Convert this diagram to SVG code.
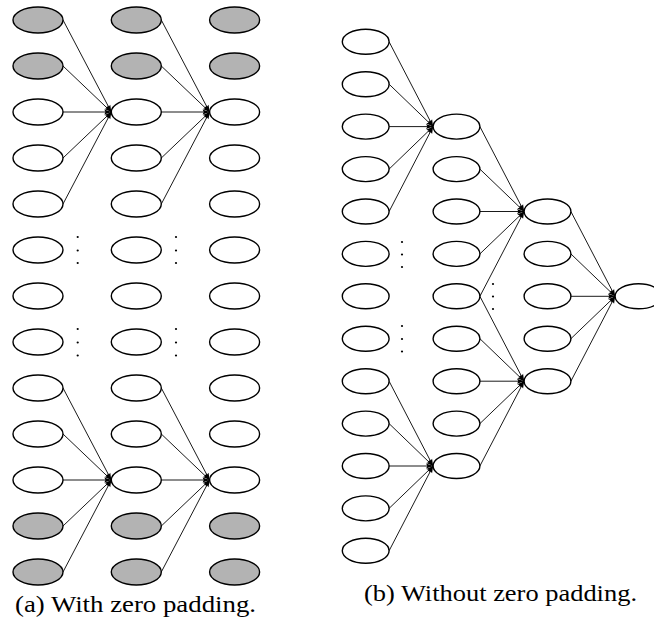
<svg xmlns="http://www.w3.org/2000/svg" width="654" height="630" viewBox="0 0 654 630">
  <style>
    .n { fill: #ffffff; stroke: #000000; stroke-width: 1.4; }
    .z { fill: #b3b3b3; stroke: #000000; stroke-width: 1.4; }
    .e { stroke: #000000; stroke-width: 0.9; fill: none; marker-end: url(#tip); }
    .dot { fill: #000000; }
    .cap { font-family: "Liberation Serif", "Times New Roman", serif; font-size: 22.5px; fill: #000000; }
  </style>
  <defs>
    <marker id="tip" markerUnits="userSpaceOnUse" markerWidth="8" markerHeight="6" refX="7" refY="2.5" orient="auto" overflow="visible">
      <path d="M0,0 L7,2.5 L0,5 L1.2,2.5 z" fill="#000000"/>
    </marker>
  </defs>
  <rect width="654" height="630" fill="#ffffff"/>

  <!-- connectors: (a) with zero padding -->
  <g id="edges-a">
    <line class="e" x1="63" y1="20" x2="111.3" y2="112"/>
    <line class="e" x1="63" y1="66" x2="111.3" y2="112"/>
    <line class="e" x1="63" y1="112" x2="111.3" y2="112"/>
    <line class="e" x1="63" y1="158" x2="111.3" y2="112"/>
    <line class="e" x1="63" y1="204" x2="111.3" y2="112"/>
    <line class="e" x1="161.3" y1="20" x2="209.6" y2="112"/>
    <line class="e" x1="161.3" y1="66" x2="209.6" y2="112"/>
    <line class="e" x1="161.3" y1="112" x2="209.6" y2="112"/>
    <line class="e" x1="161.3" y1="158" x2="209.6" y2="112"/>
    <line class="e" x1="161.3" y1="204" x2="209.6" y2="112"/>
    <line class="e" x1="63" y1="388" x2="111.3" y2="480"/>
    <line class="e" x1="63" y1="434" x2="111.3" y2="480"/>
    <line class="e" x1="63" y1="480" x2="111.3" y2="480"/>
    <line class="e" x1="63" y1="526" x2="111.3" y2="480"/>
    <line class="e" x1="63" y1="572" x2="111.3" y2="480"/>
    <line class="e" x1="161.3" y1="388" x2="209.6" y2="480"/>
    <line class="e" x1="161.3" y1="434" x2="209.6" y2="480"/>
    <line class="e" x1="161.3" y1="480" x2="209.6" y2="480"/>
    <line class="e" x1="161.3" y1="526" x2="209.6" y2="480"/>
    <line class="e" x1="161.3" y1="572" x2="209.6" y2="480"/>
  </g>

  <!-- connectors: (b) without zero padding -->
  <g id="edges-b">
    <line class="e" x1="389.1" y1="41.8" x2="433.1" y2="126.6"/>
    <line class="e" x1="389.1" y1="84.2" x2="433.1" y2="126.6"/>
    <line class="e" x1="389.1" y1="126.6" x2="433.1" y2="126.6"/>
    <line class="e" x1="389.1" y1="169.1" x2="433.1" y2="126.6"/>
    <line class="e" x1="389.1" y1="211.5" x2="433.1" y2="126.6"/>
    <line class="e" x1="389.1" y1="381.2" x2="433.1" y2="466"/>
    <line class="e" x1="389.1" y1="423.6" x2="433.1" y2="466"/>
    <line class="e" x1="389.1" y1="466" x2="433.1" y2="466"/>
    <line class="e" x1="389.1" y1="508.4" x2="433.1" y2="466"/>
    <line class="e" x1="389.1" y1="550.8" x2="433.1" y2="466"/>
    <line class="e" x1="479.9" y1="126.6" x2="524.1" y2="211.5"/>
    <line class="e" x1="479.9" y1="169.1" x2="524.1" y2="211.5"/>
    <line class="e" x1="479.9" y1="211.5" x2="524.1" y2="211.5"/>
    <line class="e" x1="479.9" y1="253.9" x2="524.1" y2="211.5"/>
    <line class="e" x1="479.9" y1="296.3" x2="524.1" y2="211.5"/>
    <line class="e" x1="479.9" y1="296.3" x2="524.1" y2="381.2"/>
    <line class="e" x1="479.9" y1="338.7" x2="524.1" y2="381.2"/>
    <line class="e" x1="479.9" y1="381.2" x2="524.1" y2="381.2"/>
    <line class="e" x1="479.9" y1="423.6" x2="524.1" y2="381.2"/>
    <line class="e" x1="479.9" y1="466" x2="524.1" y2="381.2"/>
    <line class="e" x1="570.9" y1="211.5" x2="615.1" y2="296.3"/>
    <line class="e" x1="570.9" y1="253.9" x2="615.1" y2="296.3"/>
    <line class="e" x1="570.9" y1="296.3" x2="615.1" y2="296.3"/>
    <line class="e" x1="570.9" y1="338.7" x2="615.1" y2="296.3"/>
    <line class="e" x1="570.9" y1="381.2" x2="615.1" y2="296.3"/>
  </g>

  <!-- (a) column 1 -->
  <g id="a1-0"><ellipse class="z" cx="38" cy="20" rx="25" ry="13"/></g>
  <g id="a1-1"><ellipse class="z" cx="38" cy="66" rx="25" ry="13"/></g>
  <g id="a1-2"><ellipse class="n" cx="38" cy="112" rx="25" ry="13"/></g>
  <g id="a1-3"><ellipse class="n" cx="38" cy="158" rx="25" ry="13"/></g>
  <g id="a1-4"><ellipse class="n" cx="38" cy="204" rx="25" ry="13"/></g>
  <g id="a1-5"><ellipse class="n" cx="38" cy="250" rx="25" ry="13"/></g>
  <g id="a1-6"><ellipse class="n" cx="38" cy="296" rx="25" ry="13"/></g>
  <g id="a1-7"><ellipse class="n" cx="38" cy="342" rx="25" ry="13"/></g>
  <g id="a1-8"><ellipse class="n" cx="38" cy="388" rx="25" ry="13"/></g>
  <g id="a1-9"><ellipse class="n" cx="38" cy="434" rx="25" ry="13"/></g>
  <g id="a1-10"><ellipse class="n" cx="38" cy="480" rx="25" ry="13"/></g>
  <g id="a1-11"><ellipse class="z" cx="38" cy="526" rx="25" ry="13"/></g>
  <g id="a1-12"><ellipse class="z" cx="38" cy="572" rx="25" ry="13"/></g>

  <!-- (a) column 2 -->
  <g id="a2-0"><ellipse class="z" cx="136.3" cy="20" rx="25" ry="13"/></g>
  <g id="a2-1"><ellipse class="z" cx="136.3" cy="66" rx="25" ry="13"/></g>
  <g id="a2-2"><ellipse class="n" cx="136.3" cy="112" rx="25" ry="13"/></g>
  <g id="a2-3"><ellipse class="n" cx="136.3" cy="158" rx="25" ry="13"/></g>
  <g id="a2-4"><ellipse class="n" cx="136.3" cy="204" rx="25" ry="13"/></g>
  <g id="a2-5"><ellipse class="n" cx="136.3" cy="250" rx="25" ry="13"/></g>
  <g id="a2-6"><ellipse class="n" cx="136.3" cy="296" rx="25" ry="13"/></g>
  <g id="a2-7"><ellipse class="n" cx="136.3" cy="342" rx="25" ry="13"/></g>
  <g id="a2-8"><ellipse class="n" cx="136.3" cy="388" rx="25" ry="13"/></g>
  <g id="a2-9"><ellipse class="n" cx="136.3" cy="434" rx="25" ry="13"/></g>
  <g id="a2-10"><ellipse class="n" cx="136.3" cy="480" rx="25" ry="13"/></g>
  <g id="a2-11"><ellipse class="z" cx="136.3" cy="526" rx="25" ry="13"/></g>
  <g id="a2-12"><ellipse class="z" cx="136.3" cy="572" rx="25" ry="13"/></g>

  <!-- (a) column 3 -->
  <g id="a3-0"><ellipse class="z" cx="234.6" cy="20" rx="25" ry="13"/></g>
  <g id="a3-1"><ellipse class="z" cx="234.6" cy="66" rx="25" ry="13"/></g>
  <g id="a3-2"><ellipse class="n" cx="234.6" cy="112" rx="25" ry="13"/></g>
  <g id="a3-3"><ellipse class="n" cx="234.6" cy="158" rx="25" ry="13"/></g>
  <g id="a3-4"><ellipse class="n" cx="234.6" cy="204" rx="25" ry="13"/></g>
  <g id="a3-5"><ellipse class="n" cx="234.6" cy="250" rx="25" ry="13"/></g>
  <g id="a3-6"><ellipse class="n" cx="234.6" cy="296" rx="25" ry="13"/></g>
  <g id="a3-7"><ellipse class="n" cx="234.6" cy="342" rx="25" ry="13"/></g>
  <g id="a3-8"><ellipse class="n" cx="234.6" cy="388" rx="25" ry="13"/></g>
  <g id="a3-9"><ellipse class="n" cx="234.6" cy="434" rx="25" ry="13"/></g>
  <g id="a3-10"><ellipse class="n" cx="234.6" cy="480" rx="25" ry="13"/></g>
  <g id="a3-11"><ellipse class="z" cx="234.6" cy="526" rx="25" ry="13"/></g>
  <g id="a3-12"><ellipse class="z" cx="234.6" cy="572" rx="25" ry="13"/></g>

  <!-- (a) vertical ellipses -->
  <g id="dots-a">
    <circle class="dot" cx="77.7" cy="237" r="1.1"/>
    <circle class="dot" cx="77.7" cy="250.5" r="1.1"/>
    <circle class="dot" cx="77.7" cy="263" r="1.1"/>
    <circle class="dot" cx="77.7" cy="329" r="1.1"/>
    <circle class="dot" cx="77.7" cy="342.5" r="1.1"/>
    <circle class="dot" cx="77.7" cy="355.5" r="1.1"/>
    <circle class="dot" cx="176" cy="237" r="1.1"/>
    <circle class="dot" cx="176" cy="250.5" r="1.1"/>
    <circle class="dot" cx="176" cy="263" r="1.1"/>
    <circle class="dot" cx="176" cy="329" r="1.1"/>
    <circle class="dot" cx="176" cy="342.5" r="1.1"/>
    <circle class="dot" cx="176" cy="355.5" r="1.1"/>
  </g>

  <!-- (b) column A -->
  <g id="b1-0"><ellipse class="n" cx="365.7" cy="41.8" rx="23.4" ry="12.5"/></g>
  <g id="b1-1"><ellipse class="n" cx="365.7" cy="84.2" rx="23.4" ry="12.5"/></g>
  <g id="b1-2"><ellipse class="n" cx="365.7" cy="126.6" rx="23.4" ry="12.5"/></g>
  <g id="b1-3"><ellipse class="n" cx="365.7" cy="169.1" rx="23.4" ry="12.5"/></g>
  <g id="b1-4"><ellipse class="n" cx="365.7" cy="211.5" rx="23.4" ry="12.5"/></g>
  <g id="b1-5"><ellipse class="n" cx="365.7" cy="253.9" rx="23.4" ry="12.5"/></g>
  <g id="b1-6"><ellipse class="n" cx="365.7" cy="296.3" rx="23.4" ry="12.5"/></g>
  <g id="b1-7"><ellipse class="n" cx="365.7" cy="338.7" rx="23.4" ry="12.5"/></g>
  <g id="b1-8"><ellipse class="n" cx="365.7" cy="381.2" rx="23.4" ry="12.5"/></g>
  <g id="b1-9"><ellipse class="n" cx="365.7" cy="423.6" rx="23.4" ry="12.5"/></g>
  <g id="b1-10"><ellipse class="n" cx="365.7" cy="466" rx="23.4" ry="12.5"/></g>
  <g id="b1-11"><ellipse class="n" cx="365.7" cy="508.4" rx="23.4" ry="12.5"/></g>
  <g id="b1-12"><ellipse class="n" cx="365.7" cy="550.8" rx="23.4" ry="12.5"/></g>

  <!-- (b) column B -->
  <g id="b2-2"><ellipse class="n" cx="456.5" cy="126.6" rx="23.4" ry="12.5"/></g>
  <g id="b2-3"><ellipse class="n" cx="456.5" cy="169.1" rx="23.4" ry="12.5"/></g>
  <g id="b2-4"><ellipse class="n" cx="456.5" cy="211.5" rx="23.4" ry="12.5"/></g>
  <g id="b2-5"><ellipse class="n" cx="456.5" cy="253.9" rx="23.4" ry="12.5"/></g>
  <g id="b2-6"><ellipse class="n" cx="456.5" cy="296.3" rx="23.4" ry="12.5"/></g>
  <g id="b2-7"><ellipse class="n" cx="456.5" cy="338.7" rx="23.4" ry="12.5"/></g>
  <g id="b2-8"><ellipse class="n" cx="456.5" cy="381.2" rx="23.4" ry="12.5"/></g>
  <g id="b2-9"><ellipse class="n" cx="456.5" cy="423.6" rx="23.4" ry="12.5"/></g>
  <g id="b2-10"><ellipse class="n" cx="456.5" cy="466" rx="23.4" ry="12.5"/></g>

  <!-- (b) column C -->
  <g id="b3-4"><ellipse class="n" cx="547.5" cy="211.5" rx="23.4" ry="12.5"/></g>
  <g id="b3-5"><ellipse class="n" cx="547.5" cy="253.9" rx="23.4" ry="12.5"/></g>
  <g id="b3-6"><ellipse class="n" cx="547.5" cy="296.3" rx="23.4" ry="12.5"/></g>
  <g id="b3-7"><ellipse class="n" cx="547.5" cy="338.7" rx="23.4" ry="12.5"/></g>
  <g id="b3-8"><ellipse class="n" cx="547.5" cy="381.2" rx="23.4" ry="12.5"/></g>

  <!-- (b) output node -->
  <g id="b4-6"><ellipse class="n" cx="638.5" cy="296.3" rx="23.4" ry="12.5"/></g>

  <!-- (b) vertical ellipses -->
  <g id="dots-b">
    <circle class="dot" cx="402" cy="242" r="1.1"/>
    <circle class="dot" cx="402" cy="254.5" r="1.1"/>
    <circle class="dot" cx="402" cy="267" r="1.1"/>
    <circle class="dot" cx="402" cy="326" r="1.1"/>
    <circle class="dot" cx="402" cy="339" r="1.1"/>
    <circle class="dot" cx="402" cy="351.5" r="1.1"/>
    <circle class="dot" cx="493" cy="284" r="1.1"/>
    <circle class="dot" cx="493" cy="296.5" r="1.1"/>
    <circle class="dot" cx="493" cy="309" r="1.1"/>
  </g>

  <!-- captions -->
  <text class="cap" font-family="Liberation Serif, serif" x="15" y="612.3" textLength="241" lengthAdjust="spacingAndGlyphs">(a) With zero padding.</text>
  <text class="cap" font-family="Liberation Serif, serif" x="364" y="600.8" textLength="273" lengthAdjust="spacingAndGlyphs">(b) Without zero padding.</text>
</svg>
